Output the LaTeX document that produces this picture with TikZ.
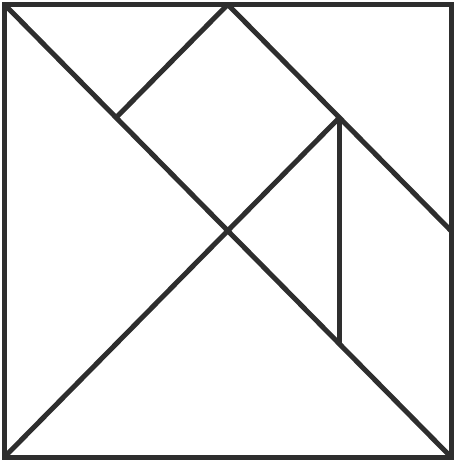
\documentclass[tikz,border=0pt]{standalone}
\begin{document}
\begin{tikzpicture}[x=1pt,y=-1pt,
  edge/.style={line width=5pt,draw=black!82,line cap=butt,line join=miter}]
\useasboundingbox (0,0) rectangle (456,462);
\coordinate (tl) at (4.5,4.5);
\coordinate (tr) at (451,4.5);
\coordinate (br) at (451,457);
\coordinate (bl) at (4.5,457);
\coordinate (top) at (227.75,4.5);
\coordinate (rmid) at (451,230.75);
\coordinate (c) at (227.75,230.75);
\coordinate (q) at (116.1,117.6);
\coordinate (p) at (339.4,117.6);
\coordinate (r) at (339.4,343.9);
\draw[edge] (tl) -- (tr) -- (br) -- (bl) -- cycle;
\draw[edge] (tl) -- (br);
\draw[edge] (bl) -- (p);
\draw[edge] (top) -- (rmid);
\draw[edge] (q) -- (top);
\draw[edge] (p) -- (r);
\end{tikzpicture}
\end{document}
